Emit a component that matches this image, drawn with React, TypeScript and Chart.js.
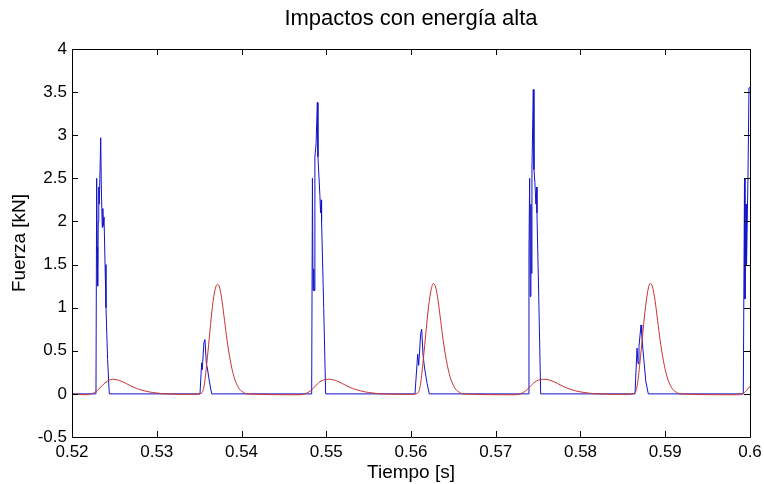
import React, { useEffect, useRef } from "react";
import { Chart, registerables } from "chart.js";

Chart.register(...registerables);

const TITLE = "Impactos con energía alta";
const X_LABEL = "Tiempo [s]";
const Y_LABEL = "Fuerza [kN]";

const xTickValues = [0.52, 0.53, 0.54, 0.55, 0.56, 0.57, 0.58, 0.59, 0.6];
const xTickLabels = ["0.52", "0.53", "0.54", "0.55", "0.56", "0.57", "0.58", "0.59", "0.6"];
const yTickValues = [-0.5, 0, 0.5, 1, 1.5, 2, 2.5, 3, 3.5, 4];
const yTickLabels = ["-0.5", "0", "0.5", "1", "1.5", "2", "2.5", "3", "3.5", "4"];

// Blue series (impact force, raw)
const blueTime = [
  0.52,
  0.52283, 0.52291, 0.52298, 0.52303, 0.5231, 0.52316, 0.52322, 0.52339, 0.52346, 0.52357, 0.52364, 0.52369, 0.52378, 0.5239, 0.52401, 0.5242, 0.5244,
  0.5351, 0.5353, 0.53537, 0.53557, 0.53569, 0.53585, 0.53597, 0.5362, 0.53648,
  0.54828, 0.54837, 0.54844, 0.54852, 0.54856, 0.54866, 0.5488, 0.54895, 0.54902, 0.54925, 0.54933, 0.54941, 0.54945, 0.5497, 0.54993,
  0.56047, 0.56079, 0.56091, 0.56114, 0.56126, 0.56142, 0.5616, 0.5619, 0.56216,
  0.57384, 0.57392, 0.574, 0.57407, 0.57415, 0.57419, 0.57427, 0.57443, 0.57451, 0.57462, 0.57474, 0.57482, 0.57486, 0.5751, 0.5753,
  0.58643, 0.58667, 0.58679, 0.5869, 0.58714, 0.58722, 0.58738, 0.5877, 0.588,
  0.59921, 0.59935, 0.59941, 0.59953, 0.59959, 0.59976, 0.59988, 0.6,
];
const blueForce = [
  0,
  0, 2.5, 1.7, 1.25, 2.0, 2.4, 2.2, 2.97, 2.4, 1.93, 2.15, 1.95, 2.05, 1.5, 1.0, 0.4, 0,
  0, 0.36, 0.28, 0.6, 0.63, 0.35, 0.3, 0.15, 0,
  0, 2.5, 1.2, 1.45, 1.2, 2.75, 2.9, 3.38, 2.75, 2.3, 2.1, 2.25, 2.0, 1.0, 0,
  0, 0.46, 0.33, 0.7, 0.75, 0.45, 0.3, 0.12, 0,
  0, 1.67, 2.5, 1.13, 2.2, 1.4, 2.6, 3.53, 2.6, 2.45, 2.2, 2.4, 2.1, 1.0, 0,
  0, 0.53, 0.35, 0.55, 0.8, 0.7, 0.5, 0.15, 0,
  0, 2.5, 1.1, 2.2, 1.5, 2.5, 3.55, 3.55,
];

// Red series (filtered / transmitted force)
const redTime = [
  0.52, 0.5215, 0.5223, 0.523, 0.5236, 0.5242, 0.5249, 0.5256, 0.5264, 0.5272, 0.528, 0.529, 0.53, 0.531,
  0.5345, 0.5353, 0.5356, 0.5359, 0.5362, 0.5365, 0.5368, 0.53715, 0.5374, 0.5377, 0.538, 0.5383, 0.5386, 0.5389, 0.5392, 0.5395, 0.5398, 0.5402, 0.5406,
  0.5468, 0.5475, 0.5482, 0.5488, 0.5494, 0.5504, 0.5511, 0.5519, 0.5527, 0.5535, 0.5545, 0.5555, 0.5565,
  0.5601, 0.5608, 0.5611, 0.5614, 0.5617, 0.562, 0.5623, 0.56263, 0.5629, 0.5632, 0.5635, 0.5638, 0.5641, 0.5644, 0.5647, 0.565, 0.5653, 0.5657, 0.5661,
  0.5722, 0.5729, 0.5736, 0.5742, 0.5748, 0.5758, 0.5765, 0.5773, 0.5781, 0.5789, 0.5799, 0.5809, 0.5819,
  0.5857, 0.5864, 0.5867, 0.587, 0.5873, 0.5876, 0.5879, 0.5882, 0.5885, 0.5888, 0.5891, 0.5894, 0.5897, 0.59, 0.5903, 0.5906, 0.5909, 0.5913, 0.5917,
  0.5984, 0.5991, 0.5996, 0.6,
];
const redForce = [
  0, -0.01, 0, 0.04, 0.1, 0.15, 0.17, 0.155, 0.12, 0.08, 0.05, 0.025, 0.01, 0,
  -0.005, 0.01, 0.1, 0.35, 0.65, 0.95, 1.17, 1.27, 1.24, 1.08, 0.85, 0.62, 0.43, 0.28, 0.17, 0.1, 0.05, 0.02, 0,
  -0.01, 0, 0.04, 0.1, 0.15, 0.17, 0.155, 0.12, 0.08, 0.05, 0.025, 0.01, 0,
  -0.005, 0.01, 0.1, 0.35, 0.65, 0.95, 1.17, 1.28, 1.24, 1.08, 0.85, 0.62, 0.43, 0.28, 0.17, 0.1, 0.05, 0.02, 0,
  -0.01, 0, 0.04, 0.1, 0.15, 0.17, 0.155, 0.12, 0.08, 0.05, 0.025, 0.01, 0,
  -0.005, 0.01, 0.1, 0.35, 0.65, 0.95, 1.17, 1.28, 1.24, 1.08, 0.85, 0.62, 0.43, 0.28, 0.17, 0.1, 0.05, 0.02, 0,
  -0.01, 0, 0.04, 0.09,
];

const FONT = "'Liberation Sans', Arial, Helvetica, sans-serif";

const framePlugin = {
  id: "matlabFrame",
  afterDraw(chart: any) {
    const { ctx, chartArea } = chart;
    const { left, right, top, bottom } = chartArea;
    const xs = chart.scales.x;
    const ys = chart.scales.y;
    const tl = 6;
    ctx.save();
    ctx.strokeStyle = "#000";
    ctx.lineWidth = 1;
    ctx.beginPath();
    ctx.rect(Math.round(left) + 0.5, Math.round(top) + 0.5, Math.round(right - left), Math.round(bottom - top));
    ctx.stroke();
    ctx.beginPath();
    xTickValues.forEach((v) => {
      const px = Math.round(xs.getPixelForValue(v)) + 0.5;
      ctx.moveTo(px, bottom);
      ctx.lineTo(px, bottom - tl);
      ctx.moveTo(px, top);
      ctx.lineTo(px, top + tl);
    });
    yTickValues.forEach((v) => {
      const py = Math.round(ys.getPixelForValue(v)) + 0.5;
      ctx.moveTo(left, py);
      ctx.lineTo(left + tl, py);
      ctx.moveTo(right, py);
      ctx.lineTo(right - tl, py);
    });
    ctx.stroke();

    ctx.fillStyle = "#000";
    ctx.textAlign = "center";
    ctx.textBaseline = "middle";
    ctx.font = `22px ${FONT}`;
    ctx.fillText(TITLE, (left + right) / 2, 19);
    ctx.font = `19px ${FONT}`;
    ctx.fillText(X_LABEL, (left + right) / 2, 473);
    ctx.translate(20, (top + bottom) / 2);
    ctx.rotate(-Math.PI / 2);
    ctx.fillText(Y_LABEL, 0, 0);
    ctx.restore();
  },
};

export default function App() {
  const canvasRef = useRef<HTMLCanvasElement | null>(null);

  useEffect(() => {
    const canvas = canvasRef.current;
    if (!canvas) return;
    const chart = new Chart(canvas, {
      type: "line",
      data: {
        datasets: [
          {
            label: "Fuerza filtrada",
            data: redTime.map((t, i) => ({ x: t, y: redForce[i] })),
            borderColor: "#c83030",
            borderWidth: 1,
            pointRadius: 0,
            cubicInterpolationMode: "monotone",
            fill: false,
            order: 0,
          },
          {
            label: "Fuerza impacto",
            data: blueTime.map((t, i) => ({ x: t, y: blueForce[i] })),
            borderColor: "#1212c8",
            borderWidth: 1,
            pointRadius: 0,
            tension: 0,
            fill: false,
            order: 1,
          },
        ],
      },
      options: {
        animation: false,
        responsive: false,
        events: [],
        layout: { padding: { left: 0, right: 14, top: 49, bottom: 0 } },
        plugins: {
          legend: { display: false },
          title: { display: false },
          tooltip: { enabled: false },
        },
        scales: {
          x: {
            type: "linear",
            min: 0.52,
            max: 0.6,
            grid: { display: false, drawTicks: false },
            border: { display: false },
            afterBuildTicks: (scale: any) => {
              scale.ticks = xTickValues.map((v) => ({ value: v }));
            },
            afterFit: (scale: any) => {
              scale.height = 47;
              scale.paddingLeft = 0;
              scale.paddingRight = 0;
            },
            ticks: {
              autoSkip: false,
              maxRotation: 0,
              padding: 5,
              color: "#000",
              font: { family: FONT, size: 17 },
              callback: (_v: any, i: number) => xTickLabels[i],
            },
          },
          y: {
            type: "linear",
            min: -0.5,
            max: 4,
            grid: { display: false, drawTicks: false },
            border: { display: false },
            afterBuildTicks: (scale: any) => {
              scale.ticks = yTickValues.map((v) => ({ value: v }));
            },
            afterFit: (scale: any) => {
              scale.width = 72;
              scale.paddingTop = 0;
              scale.paddingBottom = 0;
            },
            ticks: {
              autoSkip: false,
              padding: 5,
              color: "#000",
              font: { family: FONT, size: 17 },
              callback: (_v: any, i: number) => yTickLabels[i],
            },
          },
        },
      },
      plugins: [framePlugin],
    });
    return () => chart.destroy();
  }, []);

  return (
    <div style={{ position: "fixed", left: 0, top: 0, width: 764, height: 484, background: "#fff" }}>
      <canvas ref={canvasRef} width={764} height={484} style={{ display: "block" }} />
    </div>
  );
}
